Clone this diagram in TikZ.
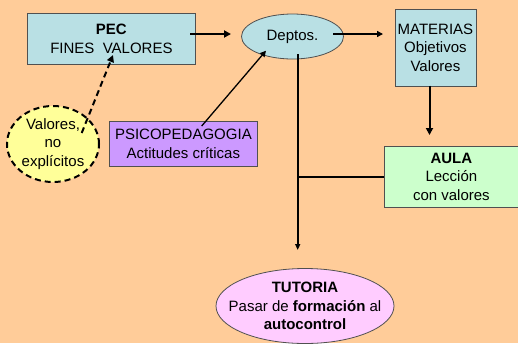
\documentclass[tikz,border=0pt]{standalone}
\usepackage{fontspec}
\setmainfont{Liberation Sans}
\usetikzlibrary{shapes.geometric,arrows.meta}
\definecolor{bgc}{RGB}{255,204,153}
\definecolor{blu}{RGB}{185,224,228}
\definecolor{grn}{RGB}{204,255,204}
\definecolor{pur}{RGB}{204,153,255}
\definecolor{pnk}{RGB}{255,204,255}
\definecolor{yel}{RGB}{255,255,153}
\definecolor{edge}{RGB}{80,80,80}
\tikzset{
  txt/.style={font=\fontsize{15}{18.5}\selectfont, align=center, text=black},
  boxn/.style={txt, draw=edge, line width=0.8pt, inner sep=0pt, anchor=north west},
  elln/.style={txt, ellipse, draw=edge, line width=0.8pt, inner sep=0pt},
  thick arr/.style={line width=2pt, -{Triangle[length=7pt,width=7pt]}},
  thin arr/.style={line width=1.3pt, -{Triangle[length=6pt,width=6pt]}},
}
\begin{document}
\begin{tikzpicture}[x=1pt,y=-1pt]
\fill[bgc] (0,0) rectangle (518,343);
\useasboundingbox (0,0) rectangle (518,343);
% PEC
\node[boxn, fill=blu, minimum width=168pt, minimum height=51pt] (pec) at (27,13) {\textbf{PEC}\\FINES\ \ VALORES};
% Deptos
\node[elln, fill=blu, minimum width=102pt, minimum height=45pt] (dep) at (292.5,36.5) {Deptos.};
% MATERIAS
\node[boxn, fill=blu, minimum width=81pt, minimum height=77pt] (mat) at (394.5,8.5) {MATERIAS\\Objetivos\\Valores};
% AULA
\node[boxn, fill=grn, minimum width=134pt, minimum height=61pt] (aula) at (384,146) {\textbf{AULA}\\Lección\\con valores};
% PSICOPEDAGOGIA
\node[boxn, fill=pur, minimum width=148pt, minimum height=45pt] (psi) at (109,121) {PSICOPEDAGOGIA\\Actitudes críticas};
% Valores no explicitos
\node[elln, fill=yel, draw=black, dashed, dash pattern=on 6pt off 4pt, line width=2pt, inner xsep=-8pt, inner ysep=-4pt, minimum width=92pt, minimum height=76pt] (val) at (53,144) {Valores,\\no\\explícitos};
% TUTORIA
\node[elln, fill=pnk, inner xsep=-30pt, inner ysep=-6pt, minimum width=178pt, minimum height=75pt] (tut) at (305,306) {\textbf{TUTORIA}\\Pasar de \textbf{formación} al\\\textbf{autocontrol}};
% coordinates
\coordinate (a1) at (190,34);
\coordinate (a2) at (231,34);
\coordinate (b1) at (333,34);
\coordinate (b2) at (383,34);
\coordinate (c1) at (429.5,85.5);
\coordinate (c2) at (429.5,135);
\coordinate (d1) at (297.7,54);
\coordinate (d2) at (297.7,250);
\coordinate (j) at (297.7,176.7);
\coordinate (e1) at (201.7,126);
\coordinate (e2) at (266,50.7);
\coordinate (f1) at (81.7,133);
\coordinate (f2) at (113,55);
% connectors
\draw[thick arr] (a1) -- (a2);
\draw[thin arr] (b1) -- (b2);
\draw[thick arr] (c1) -- (c2);
\draw[line width=2pt, -{Triangle[length=6pt,width=5pt]}] (d1) -- (d2);
\draw[line width=2pt] (aula.west |- j) -- (j);
\draw[thin arr] (e1) -- (e2);
\draw[line width=2pt, dash pattern=on 6pt off 4pt, -{Triangle[length=7pt,width=7pt]}] (f1) -- (f2);
\end{tikzpicture}
\end{document}
